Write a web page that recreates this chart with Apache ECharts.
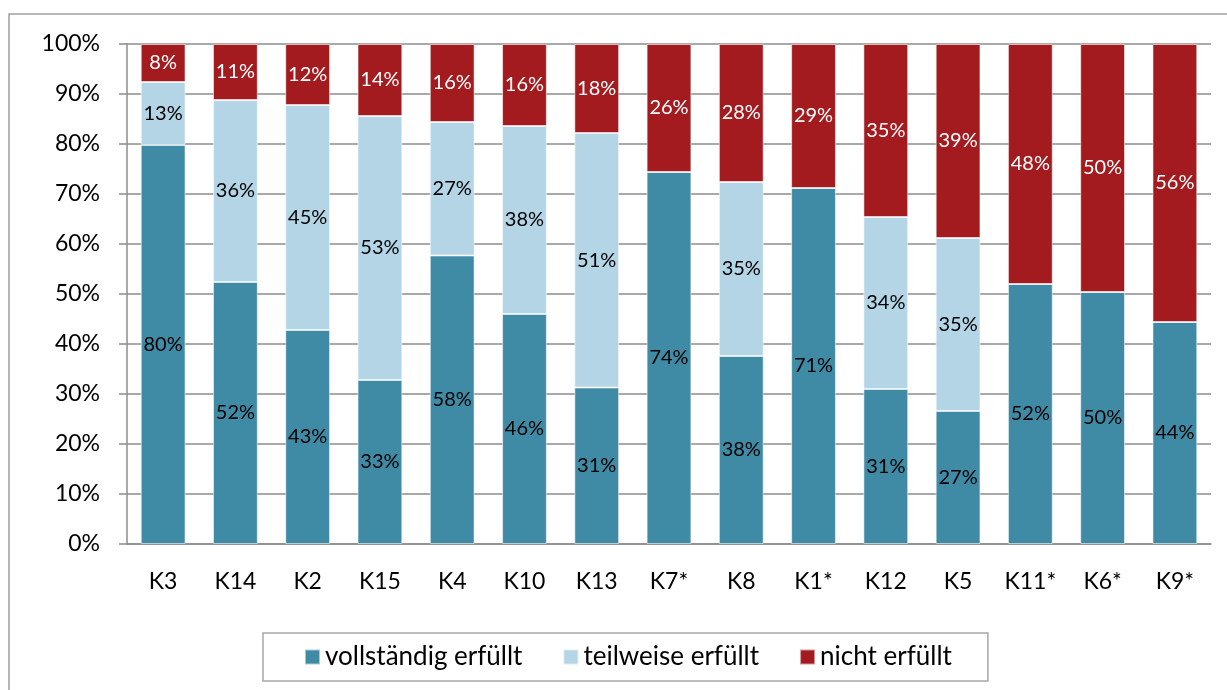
<!DOCTYPE html>
<html>
<head>
<meta charset="utf-8">
<script src="https://cdn.jsdelivr.net/npm/echarts@6/dist/echarts.min.js"></script>
<style>
    html, body {margin: 0; padding: 0; background: #fff;}
    #main {width: 1227px; height: 690px;}
</style>
</head>
<body>
<div id="main"></div>
<script>
let categories = ['K3', 'K14', 'K2', 'K15', 'K4', 'K10', 'K13', 'K7*', 'K8', 'K1*', 'K12', 'K5', 'K11*', 'K6*', 'K9*'];
let vollstaendig = [79.8, 52.4, 42.8, 32.8, 57.7, 46.0, 31.3, 74.4, 37.6, 71.2, 31.0, 26.6, 52.0, 50.4, 44.4];
let teilweise = [12.6, 36.4, 45.0, 52.8, 26.7, 37.6, 50.9, 0, 34.8, 0, 34.4, 34.6, 0, 0, 0];
let nicht = [7.6, 11.2, 12.2, 14.4, 15.6, 16.4, 17.8, 25.6, 27.6, 28.8, 34.6, 38.8, 48.0, 49.6, 55.6];
let yTicks = [0, 10, 20, 30, 40, 50, 60, 70, 80, 90, 100];

let fontName = 'Lato';
let gridColor = '#8c8c8c';

let myChart = echarts.init(document.getElementById('main'));

let makeSeries = (name, data, color, labelColor) => {
    return {
        name: name,
        type: 'bar',
        stack: 'total',
        barWidth: '62%',
        silent: true,
        data: data,
        itemStyle: {
            color: color,
            borderColor: 'rgba(255,255,255,0.55)',
            borderWidth: 1
        },
        label: {
            show: true,
            position: 'inside',
            color: labelColor,
            fontFamily: fontName,
            fontSize: 20,
            formatter: (p) => p.value > 0 ? Math.round(p.value) + '%' : ''
        }
    };
};

myChart.setOption({
    animation: false,
    backgroundColor: '#fff',
    graphic: [{
        type: 'rect',
        shape: {x: 9, y: 14, width: 1240, height: 700},
        style: {fill: 'none', stroke: '#a0a0a0', lineWidth: 1.5},
        silent: true,
        z: -10
    }],
    grid: {left: 127, right: 16, top: 44, bottom: 146},
    legend: {
        top: 633,
        left: 263,
        icon: 'rect',
        itemWidth: 15,
        itemHeight: 15,
        itemGap: 40,
        selectedMode: false,
        borderColor: '#a6a6a6',
        borderWidth: 1.5,
        padding: [11, 36, 11, 41],
        textStyle: {fontFamily: fontName, fontSize: 26, color: '#000'},
        data: ['vollständig erfüllt', 'teilweise erfüllt', 'nicht erfüllt']
    },
    xAxis: {
        type: 'category',
        data: categories,
        axisLine: {lineStyle: {color: gridColor, width: 1.5}},
        axisTick: {length: 8, lineStyle: {color: gridColor, width: 1.5}},
        axisLabel: {color: '#000', fontFamily: fontName, fontSize: 23, margin: 26}
    },
    yAxis: {
        type: 'value',
        min: yTicks[0],
        max: yTicks[yTicks.length - 1],
        interval: yTicks[1] - yTicks[0],
        axisLine: {show: true, lineStyle: {color: gridColor, width: 1.5}},
        axisTick: {show: true, length: 8, lineStyle: {color: gridColor, width: 1.5}},
        splitLine: {lineStyle: {color: gridColor, width: 1.5}},
        axisLabel: {color: '#000', fontFamily: fontName, fontSize: 23, margin: 27, formatter: '{value}%'}
    },
    series: [
        makeSeries('vollständig erfüllt', vollstaendig, '#3f8ba6', '#000'),
        makeSeries('teilweise erfüllt', teilweise, '#b3d5e6', '#000'),
        makeSeries('nicht erfüllt', nicht, '#a31b1f', '#fff')
    ]
});
</script>
</body>
</html>
